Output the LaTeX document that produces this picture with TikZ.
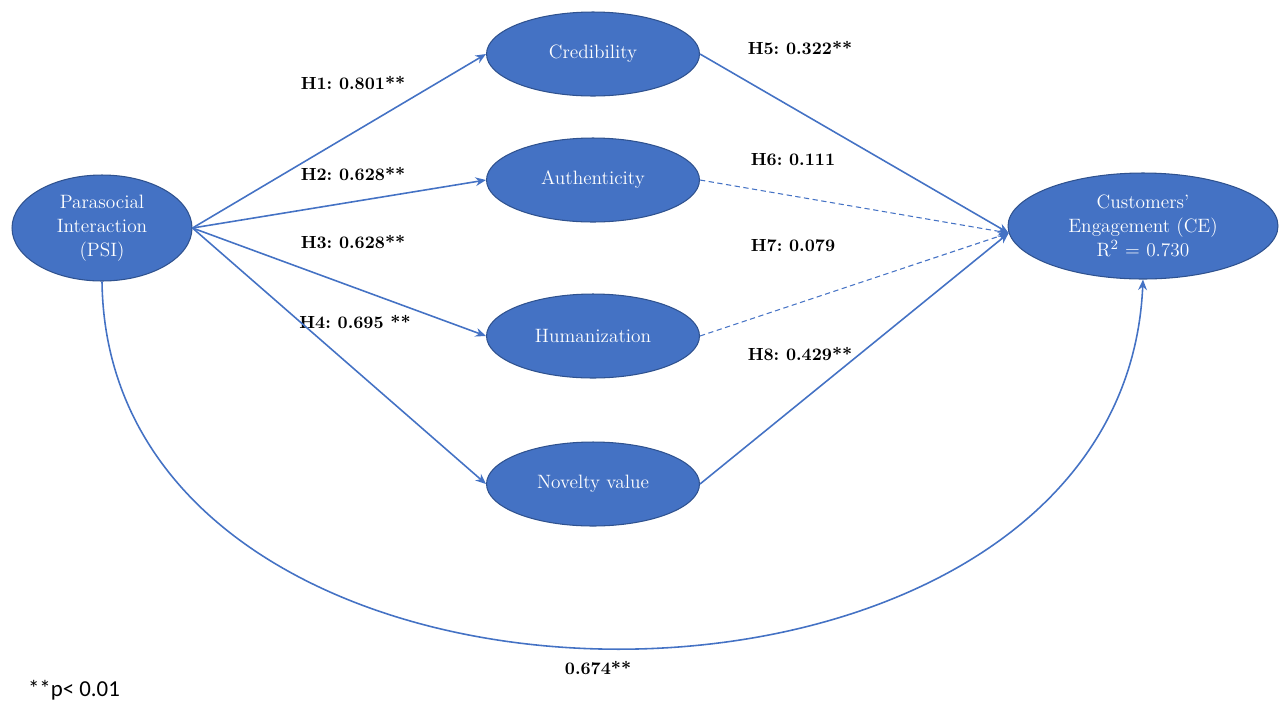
\documentclass[tikz,border=0pt]{standalone}
\usepackage{fontspec}
\newfontfamily\notefont{Carlito}
\usepackage{tikz}
\usetikzlibrary{arrows.meta,shapes.geometric}
\usepackage{xcolor}
\definecolor{ovalblue}{HTML}{4472C4}
\definecolor{ovaledge}{HTML}{2F528F}
\frenchspacing

\begin{document}
\begin{tikzpicture}[
  x=0.02cm, y=-0.02cm,
  construct/.style={ellipse, draw=ovaledge, line width=0.6pt, fill=ovalblue, text=white, align=center, inner sep=0pt, font=\fontsize{11}{13.6}\selectfont},
  mediator/.style={construct, minimum width=4.26cm, minimum height=1.68cm},
  outer/.style={construct, minimum width=3.6cm, minimum height=2.12cm},
  coef/.style={font=\fontsize{10}{12}\selectfont\bfseries, inner sep=1pt},
  path/.style={draw=ovalblue, line width=0.9pt, -{Stealth[length=6pt,width=5pt]}},
  weak/.style={path, line width=0.6pt, dashed, dash pattern=on 3pt off 2pt},
  >=Stealth
]
\useasboundingbox (0,0) rectangle (1283,704);

\node[outer] (psi) at (102,228) {Parasocial\\Interaction\\(PSI)};
\node[mediator] (cred) at (593,54)  {Credibility};
\node[mediator] (auth) at (593,180) {Authenticity};
\node[mediator] (human) at (593,336) {Humanization};
\node[mediator] (novel) at (593,484) {Novelty value};
\node[outer, minimum width=5.4cm] (ce) at (1143,226) {Customers'\\Engagement (CE)\\R$^{2}$ = 0.730};

\node[coef] (h1) at (353,83)  {H1: 0.801**};
\node[coef] (h2) at (353,174) {H2: 0.628**};
\node[coef] (h3) at (353,242) {H3: 0.628**};
\node[coef] (h4) at (355,322) {H4: 0.695 **};
\node[coef] (h5) at (800,48)  {H5: 0.322**};
\node[coef] (h6) at (793,160) {H6: 0.111};
\node[coef] (h7) at (793,246) {H7: 0.079};
\node[coef] (h8) at (800,354) {H8: 0.429**};
\node[coef] (direct) at (598,668) {0.674**};
\node[font=\notefont\fontsize{13}{15}\selectfont, inner sep=0pt] (note) at (74,690) {**p< 0.01};

\draw[path] (psi.east) -- (cred.west);
\draw[path] (psi.east) -- (auth.west);
\draw[path] (psi.east) -- (human.west);
\draw[path] (psi.east) -- (novel.west);

\draw[path] (cred.east) -- (ce.183);
\draw[weak] (auth.east) -- (ce.183);
\draw[weak] (human.east) -- (ce.183);
\draw[path] (novel.east) -- (ce.183);

\draw[path] (psi.south) .. controls (108,771) and (1122,771) .. (ce.south);
\end{tikzpicture}
\end{document}
